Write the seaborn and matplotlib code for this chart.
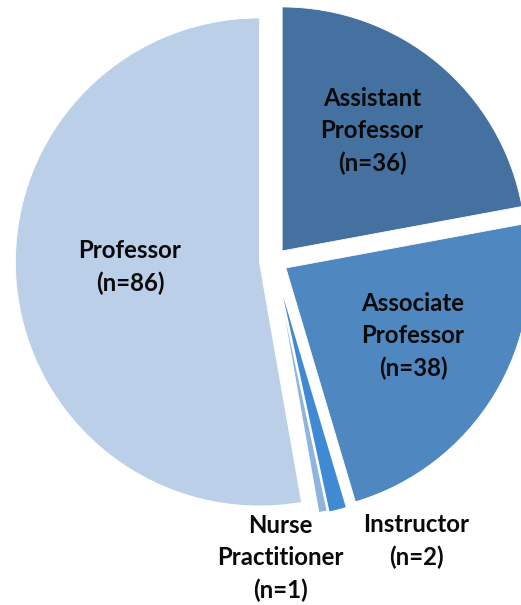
import matplotlib
matplotlib.use("Agg")
import matplotlib.pyplot as plt
import seaborn as sns

# ---- data ----
categories = ["Assistant\nProfessor", "Associate\nProfessor", "Instructor",
              "Nurse\nPractitioner", "Professor"]
counts = [36, 38, 2, 1, 86]
colors = ["#44719f", "#4f87c0", "#3f8ad3", "#8fb5de", "#bccfe8"]
explode_frac = [0.052, 0.057, 0.056, 0.05, 0.06]
# label anchor points in pixel space (x, y from top)
label_pos = [(372, 131), (413, 336), (416, 541), (280, 558), (130, 267)]

sns.set_theme(style="white")
plt.rcParams['font.family'] = ['Lato', 'DejaVu Sans']

W, H = 521, 605
R = 244
fig = plt.figure(figsize=(W / 100, H / 100), dpi=100)
ax = fig.add_axes([0, 0, 1, 1])

wedges, _ = ax.pie(counts, colors=colors, explode=[e * R for e in explode_frac],
                   startangle=90, counterclock=False,
                   radius=R, center=(274, H - 260.7), frame=True,
                   wedgeprops=dict(edgecolor="white", linewidth=0.6))
# thin slices get a slightly wider white outline so they read as separate strips
for w, n in zip(wedges, counts):
    if n <= 2:
        w.set_linewidth(1.3)
ax.set_xlim(0, W)
ax.set_ylim(0, H)
ax.set_aspect("equal")
ax.axis("off")

for cat, n, (x, y) in zip(categories, counts, label_pos):
    ax.text(x, H - y, f"{cat}\n(n={n})", ha="center", va="center",
            fontsize=17.3, fontweight="bold", color="#0a0a0a", linespacing=1.47)

fig.savefig("out.png", dpi=100)
